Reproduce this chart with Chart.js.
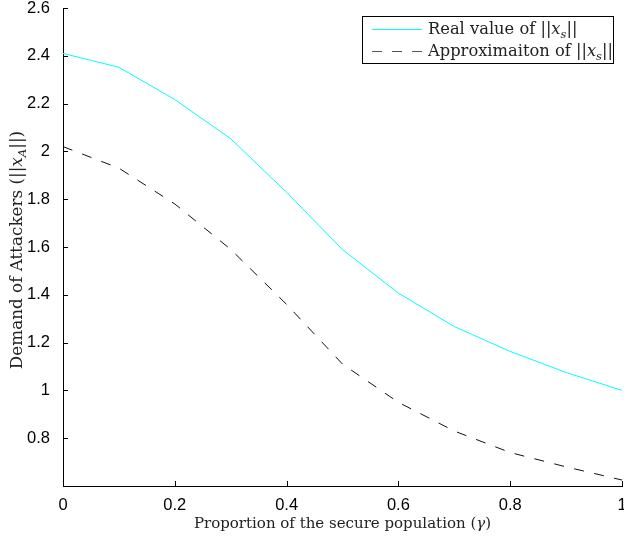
<!DOCTYPE html>
<html>
<head>
<meta charset="utf-8">
<script src="https://cdn.jsdelivr.net/npm/chart.js@4/dist/chart.umd.min.js"></script>
<style>
  html, body { margin: 0; padding: 0; background: #fff; }
  #wrap { width: 624px; height: 537px; }
</style>
</head>
<body>
<div id="wrap"><canvas id="lineChart" width="624" height="537"></canvas></div>
<script>
'use strict';

// data
const gammas = [0, 0.1, 0.2, 0.3, 0.4, 0.5, 0.6, 0.7, 0.8, 0.9, 1.0];
const realValues = [2.41, 2.352, 2.217, 2.053, 1.829, 1.589, 1.407, 1.267, 1.163, 1.075, 1.0];
const approxValues = [2.02, 1.93, 1.78, 1.59, 1.36, 1.11, 0.95, 0.83, 0.74, 0.68, 0.625];
const xTicks = [0, 0.2, 0.4, 0.6, 0.8, 1];
const yTicks = [0.8, 1, 1.2, 1.4, 1.6, 1.8, 2, 2.2, 2.4, 2.6];

const SERIF = '"DejaVu Serif", "Liberation Serif", serif';
const SANS = '"Liberation Sans", Arial, sans-serif';

// draws text pieces like "||x_s||" with italic and subscript parts
function mathWidth(ctx, parts, size) {
  let w = 0;
  parts.forEach(function(p) {
    ctx.font = (p.it ? 'italic ' : '') + (p.sub ? size * 0.7 : size) + 'px ' + SERIF;
    w += ctx.measureText(p.t).width;
  });
  return w;
}
function drawMath(ctx, parts, x, y, size) {
  parts.forEach(function(p) {
    ctx.font = (p.it ? 'italic ' : '') + (p.sub ? size * 0.7 : size) + 'px ' + SERIF;
    ctx.fillText(p.t, x, p.sub ? y + size * 0.25 : y);
    x += ctx.measureText(p.t).width;
  });
}

const legendItems = [
  { parts: [{t: 'Real value of ||'}, {t: 'x', it: true}, {t: 's', it: true, sub: true}, {t: '||'}], color: '#00ffff', dash: [] },
  { parts: [{t: 'Approximaiton of ||'}, {t: 'x', it: true}, {t: 's', it: true, sub: true}, {t: '||'}], color: '#555', dash: [10, 10] }
];

const decorPlugin = {
  id: 'decor',
  afterDraw(chart) {
    const ctx = chart.ctx;
    const xs = chart.scales.x, ys = chart.scales.y;
    const area = chart.chartArea;
    ctx.save();
    // inward tick marks
    ctx.strokeStyle = '#000';
    ctx.lineWidth = 1;
    ctx.beginPath();
    yTicks.forEach(function(v) {
      const py = Math.round(ys.getPixelForValue(v)) + 0.5;
      ctx.moveTo(area.left, py); ctx.lineTo(area.left + 5, py);
    });
    xTicks.forEach(function(v) {
      const px = Math.round(xs.getPixelForValue(v)) + 0.5;
      ctx.moveTo(px, area.bottom); ctx.lineTo(px, area.bottom - 5);
    });
    ctx.stroke();

    // axis titles
    ctx.fillStyle = '#222';
    ctx.textBaseline = 'alphabetic';
    const xt = [{t: 'Proportion of the secure population ('}, {t: 'γ', it: true}, {t: ')'}];
    const xw = mathWidth(ctx, xt, 15);
    drawMath(ctx, xt, (area.left + area.right) / 2 - xw / 2, 528, 15);

    const yt = [{t: 'Demand of Attackers (||'}, {t: 'x', it: true}, {t: 'A', it: true, sub: true}, {t: '||)'}];
    const yw = mathWidth(ctx, yt, 16.8);
    ctx.save();
    ctx.translate(22, 250);
    ctx.rotate(-Math.PI / 2);
    drawMath(ctx, yt, -yw / 2, 0, 16.8);
    ctx.restore();

    // legend box
    ctx.fillStyle = '#fff';
    ctx.fillRect(362, 16, 251, 47);
    ctx.strokeStyle = '#000';
    ctx.strokeRect(362.5, 16.5, 251, 47);
    legendItems.forEach(function(item, i) {
      const ly = 29 + i * 22 + 0.5;
      ctx.strokeStyle = item.color;
      ctx.setLineDash(item.dash);
      ctx.beginPath();
      ctx.moveTo(372, ly); ctx.lineTo(422, ly);
      ctx.stroke();
      ctx.setLineDash([]);
      ctx.fillStyle = '#222';
      drawMath(ctx, item.parts, 428, 34 + i * 22, 16.3);
    });
    ctx.restore();
  }
};

const context = document.querySelector('#lineChart').getContext('2d');
new Chart(context, {
  type: 'line',
  data: {
    labels: gammas,
    datasets: [{
      label: 'Real value',
      data: gammas.map(function(g, i) { return { x: g, y: realValues[i] }; }),
      borderColor: '#00ffff',
      borderWidth: 1,
      pointRadius: 0,
      tension: 0
    }, {
      label: 'Approximaiton',
      data: gammas.map(function(g, i) { return { x: g, y: approxValues[i] }; }),
      borderColor: '#111',
      borderWidth: 1,
      borderDash: [10, 10.5],
      pointRadius: 0,
      tension: 0
    }]
  },
  options: {
    responsive: false,
    animation: false,
    layout: { padding: { top: 8, right: 2, left: 0, bottom: 0 } },
    plugins: {
      legend: { display: false },
      tooltip: { enabled: false }
    },
    scales: {
      x: {
        type: 'linear',
        min: 0,
        max: 1,
        afterBuildTicks: function(scale) { scale.ticks = xTicks.map(function(v) { return { value: v }; }); },
        afterFit: function(scale) { scale.height = 51; scale.paddingLeft = 0; scale.paddingRight = 0; },
        grid: { display: false },
        border: { display: true, color: '#000', width: 1 },
        ticks: {
          padding: 2,
          color: '#000',
          font: { family: SANS, size: 16.5 },
          maxRotation: 0,
          callback: function(v) { return String(Math.round(v * 10) / 10); }
        }
      },
      y: {
        type: 'linear',
        min: 0.6,
        max: 2.6,
        afterBuildTicks: function(scale) { scale.ticks = yTicks.map(function(v) { return { value: v }; }); },
        afterFit: function(scale) { scale.width = 63; scale.paddingTop = 0; scale.paddingBottom = 0; },
        grid: { display: false },
        border: { display: true, color: '#000', width: 1 },
        ticks: {
          padding: 5,
          color: '#000',
          font: { family: SANS, size: 16.5 },
          callback: function(v) { return String(Math.round(v * 10) / 10); }
        }
      }
    }
  },
  plugins: [decorPlugin]
});
</script>
</body>
</html>
